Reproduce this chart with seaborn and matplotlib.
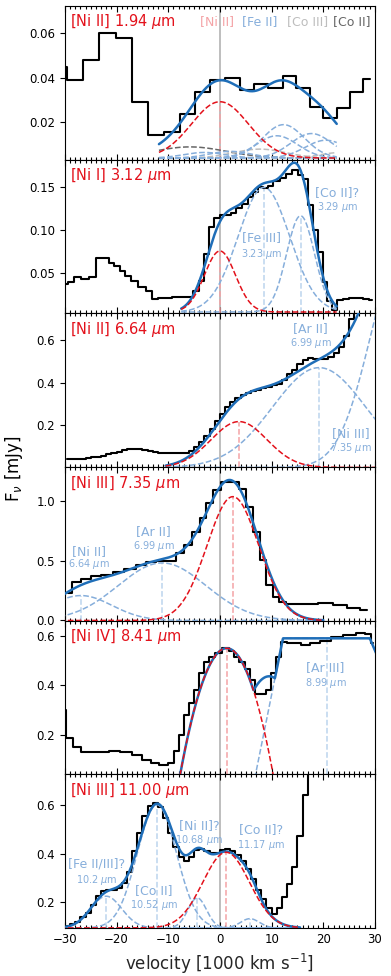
import numpy as np
import matplotlib
matplotlib.use('Agg')
import matplotlib.pyplot as plt
from matplotlib.ticker import MultipleLocator
import seaborn as sns

# ---------------- data (velocity in 1000 km/s, flux in mJy) ----------------
# [Ni II] 1.94 um
v1 = [-31.1, -28.09, -24.96, -21.73, -18.49, -15.42, -12.35, -9.28, -6.37, -3.46, -0.39,
      2.53, 5.28, 8.02, 10.77, 13.52, 16.11, 18.69, 21.28, 23.87, 26.45, 29.0]
f1 = [0.045, 0.039, 0.048, 0.060, 0.0578, 0.0293, 0.0143, 0.0155, 0.0236, 0.0338, 0.039,
      0.040, 0.0345, 0.0372, 0.0356, 0.0408, 0.0353, 0.027, 0.0218, 0.0263, 0.0335, 0.0395]
cont1 = 0.004
comp1_kind = ['main', 'co2', 'co3', 'co3', 'blend', 'blend', 'blend', 'blend', 'blend', 'blend']
comp1_center = [0.0, -5.8, 7.7, 23.5, 12.3, 17.7, 11.0, 20.5, -3.0, 2.0]
comp1_amp = [0.0253, 0.005, 0.004, 0.0025, 0.015, 0.011, 0.010, 0.008, 0.0025, 0.003]
comp1_width = [5.5, 7.0, 5.0, 4.0, 4.0, 4.0, 4.0, 4.0, 4.0, 4.0]

# [Ni I] 3.12 um
v2 = [-30.0, -28.84, -27.54, -26.12, -24.63, -23.34, -22.05, -20.95, -19.98, -18.88,
      -17.78, -16.55, -15.13, -13.64, -12.54, -11.25, -9.89, -8.47, -7.17, -5.88,
      -4.59, -3.49, -2.52, -1.55, -0.58, 0.58, 1.68, 2.72, 3.62, 4.79,
      5.89, 6.86, 7.83, 8.80, 9.77, 10.93, 12.22, 13.45, 14.55, 15.58,
      16.56, 17.52, 18.5, 19.4, 20.3, 21.2, 22.1, 23.2, 24.4, 25.7, 27.0, 28.2, 29.5]
f2 = [0.038, 0.040, 0.046, 0.043, 0.046, 0.068, 0.068, 0.062, 0.058, 0.053,
      0.047, 0.041, 0.0345, 0.0295, 0.020, 0.0217, 0.0217, 0.023, 0.023, 0.023,
      0.029, 0.041, 0.072, 0.104, 0.114, 0.118, 0.118, 0.120, 0.126, 0.131,
      0.139, 0.145, 0.151, 0.149, 0.152, 0.157, 0.161, 0.166, 0.170, 0.164,
      0.160, 0.129, 0.100, 0.075, 0.040, 0.018, 0.007, 0.0195, 0.020, 0.021, 0.0215, 0.020, 0.0195]
cont2 = 0.005
comp2_kind = ['main', 'blend', 'blend']
comp2_center = [0.0, 8.5, 15.6]
comp2_amp = [0.071, 0.145, 0.112]
comp2_width = [3.0, 5.0, 2.7]

# [Ni II] 6.64 um
v3 = [-29.5, -28.5, -27.5, -26.5, -25.5, -24.5, -23.5, -22.5, -21.5, -20.5,
      -19.5, -18.5, -17.5, -16.5, -15.5, -14.5, -13.5, -12.5, -11.5, -10.5,
      -9.5, -8.5, -7.5, -6.5, -5.5, -4.5, -3.5, -2.5, -1.5, -0.5,
      0.5, 1.5, 2.5, 3.5, 4.5, 5.5, 6.5, 7.5, 8.5, 9.5,
      10.5, 11.5, 12.5, 13.5, 14.5, 15.5, 16.5, 17.5, 18.5, 19.5,
      20.5, 21.5, 22.5, 23.5, 24.5, 25.5, 26.5]
f3 = [0.040, 0.040, 0.041, 0.042, 0.044, 0.047, 0.050, 0.055, 0.061, 0.066,
      0.074, 0.081, 0.085, 0.087, 0.086, 0.084, 0.078, 0.072, 0.069, 0.067,
      0.066, 0.066, 0.067, 0.067, 0.078, 0.098, 0.118, 0.150, 0.180, 0.220,
      0.250, 0.285, 0.310, 0.328, 0.342, 0.352, 0.360, 0.367, 0.374, 0.380,
      0.387, 0.395, 0.412, 0.440, 0.458, 0.485, 0.505, 0.514, 0.512, 0.510,
      0.512, 0.518, 0.540, 0.565, 0.620, 0.700, 0.800]
cont3 = 0.0
comp3_kind = ['main', 'blend', 'blend']
comp3_center = [3.7, 19.2, 35.5]
comp3_amp = [0.216, 0.47, 1.03]
comp3_width = [5.4, 9.0, 6.3]

# [Ni III] 7.35 um
v4 = [-29.42, -27.87, -25.93, -23.99, -21.92, -19.65, -17.39, -15.26, -13.32, -11.38,
      -9.44, -7.69, -6.08, -4.59, -3.30, -2.00, -0.58, 1.04, 2.85, 4.46,
      5.76, 7.05, 8.34, 9.64, 10.93, 12.03, 13.52, 15.46, 17.40, 20.63,
      23.21, 25.80, 28.52]
f4 = [0.228, 0.325, 0.347, 0.367, 0.381, 0.403, 0.428, 0.464, 0.492, 0.500,
      0.497, 0.561, 0.631, 0.742, 0.853, 0.978, 1.089, 1.153, 1.158, 1.097,
      0.944, 0.742, 0.506, 0.297, 0.192, 0.153, 0.136, 0.136, 0.140, 0.144,
      0.131, 0.108, 0.089]
cont4 = 0.0
comp4_kind = ['main', 'blend', 'blend']
comp4_center = [2.5, -11.2, -26.9]
comp4_amp = [1.033, 0.48, 0.208]
comp4_width = [5.0, 8.5, 6.0]

# [Ni IV] 8.41 um
v5 = [-30.4, -29.09, -27.74, -25.93, -24.12, -22.37, -20.43, -18.17, -15.9, -14.16,
      -12.67, -10.93, -9.31, -8.34, -7.37, -6.4, -5.43, -4.46, -3.49, -2.52,
      -1.55, -0.39, 1.04, 2.33, 3.3, 4.27, 5.24, 6.21, 7.18, 8.34,
      9.44, 10.41, 11.38, 12.35, 13.52, 14.81, 16.43, 18.37, 20.31, 22.57,
      25.15, 27.42, 28.84, 29.68]
f5 = [0.30, 0.187, 0.149, 0.13, 0.13, 0.13, 0.135, 0.129, 0.119, 0.099,
      0.085, 0.079, 0.085, 0.133, 0.2, 0.281, 0.328, 0.382, 0.449, 0.496,
      0.516, 0.53, 0.55, 0.537, 0.516, 0.496, 0.465, 0.422, 0.366, 0.366,
      0.382, 0.449, 0.516, 0.577, 0.57, 0.57, 0.563, 0.57, 0.581, 0.597,
      0.604, 0.613, 0.608, 0.573]
cont5 = 0.0
comp5_kind = ['main', 'blend']
comp5_center = [1.3, 20.65]
comp5_amp = [0.55, 0.59]
comp5_width = [9.34, None]
ar3_edges = [6.5, 12.2, 29.0, 41.0]   # flat-topped [Ar III] profile

# [Ni III] 11.00 um
v6 = [-29.5, -28.5, -27.5, -26.5, -25.5, -24.5, -23.5, -22.5, -21.5, -20.5,
      -19.5, -18.5, -17.5, -16.5, -15.5, -14.5, -13.5, -12.5, -11.5, -10.5,
      -9.5, -8.5, -7.5, -6.5, -5.5, -4.5, -3.5, -2.5, -1.5, -0.5,
      0.5, 1.5, 2.5, 3.5, 4.5, 5.5, 6.5, 7.5, 8.5, 9.5,
      10.5, 11.5, 12.5, 13.5, 14.5, 15.5, 16.5, 17.5]
f6 = [0.103, 0.110, 0.120, 0.138, 0.158, 0.187, 0.225, 0.245, 0.250, 0.252,
      0.258, 0.278, 0.325, 0.410, 0.485, 0.555, 0.595, 0.607, 0.590, 0.545,
      0.485, 0.428, 0.385, 0.368, 0.385, 0.413, 0.420, 0.411, 0.401, 0.403,
      0.413, 0.420, 0.412, 0.393, 0.370, 0.337, 0.297, 0.252, 0.212, 0.175,
      0.152, 0.175, 0.220, 0.275, 0.345, 0.470, 0.640, 0.800]
cont6 = 0.095
comp6_kind = ['main', 'blend', 'blend', 'blend', 'blend']
comp6_center = [1.2, -12.2, -22.0, -4.4, 5.8]
comp6_amp = [0.31, 0.505, 0.13, 0.123, 0.038]
comp6_width = [4.5, 3.8, 3.0, 1.8, 1.8]

titles = ['[Ni II] 1.94', '[Ni I] 3.12', '[Ni II] 6.64', '[Ni III] 7.35', '[Ni IV] 8.41', '[Ni III] 11.00']

# ---------------- style ----------------
sns.set_style('ticks')
plt.rcParams['font.family'] = ['DejaVu Sans']
plt.rcParams['text.color'] = 'black'
plt.rcParams['axes.edgecolor'] = 'black'
plt.rcParams['axes.linewidth'] = 0.8
plt.rcParams['xtick.color'] = 'black'
plt.rcParams['ytick.color'] = 'black'

RED = '#e3111b'
RED_PALE = '#f4a3a6'
BLUE = '#1f6eb8'
BLUE_LIGHT = '#86aedb'
BLUE_PALE = '#bcd4ee'
GRAY_LIGHT = '#bdbdbd'
GRAY_DARK = '#666666'
kind_color = {'main': RED, 'blend': BLUE_LIGHT, 'co3': GRAY_LIGHT, 'co2': GRAY_DARK}
vline_color = {'main': RED_PALE, 'blend': BLUE_PALE}


def profile(v, center, amp, width, shape='gauss'):
    if shape == 'parabola':
        return np.clip(amp * (1 - ((v - center) / width) ** 2), 0, None)
    if shape == 'flat':
        return np.interp(v, ar3_edges, [0, amp, amp, 0])
    return amp * np.exp(-0.5 * ((v - center) / width) ** 2)


panels = [
    dict(v=v1, f=f1, cont=cont1, kind=comp1_kind, c=comp1_center, a=comp1_amp, w=comp1_width,
         shape=['gauss'] * 10, vline=[True] + [False] * 9, rng=(-11.8, 22.6),
         ylim=(0.0033, 0.0724), step=0.02),
    dict(v=v2, f=f2, cont=cont2, kind=comp2_kind, c=comp2_center, a=comp2_amp, w=comp2_width,
         shape=['gauss'] * 3, vline=[True] * 3, rng=(-7.5, 22.6),
         ylim=(0.0035, 0.1824), step=0.05),
    dict(v=v3, f=f3, cont=cont3, kind=comp3_kind, c=comp3_center, a=comp3_amp, w=comp3_width,
         shape=['gauss'] * 3, vline=[True] * 3, rng=(-10.5, 32.0),
         ylim=(0.002, 0.726), step=0.2),
    dict(v=v4, f=f4, cont=cont4, kind=comp4_kind, c=comp4_center, a=comp4_amp, w=comp4_width,
         shape=['gauss'] * 3, vline=[True] * 3, rng=(-31.0, 20.0),
         ylim=(-0.002, 1.28), step=0.5),
    dict(v=v5, f=f5, cont=cont5, kind=comp5_kind, c=comp5_center, a=comp5_amp, w=comp5_width,
         shape=['parabola', 'flat'], vline=[True] * 2, rng=(-8.0, 31.0),
         ylim=(0.040, 0.661), step=0.2),
    dict(v=v6, f=f6, cont=cont6, kind=comp6_kind, c=comp6_center, a=comp6_amp, w=comp6_width,
         shape=['gauss'] * 5, vline=[True] * 5, rng=(-31.0, 15.5),
         ylim=(0.094, 0.724), step=0.2),
]

# component labels: (name, wavelength, x, y_name, y_wavelength)
labels = [
    [],
    [('[Fe III]', '3.23', 8.0, 0.092, 0.073), ('[Co II]?', '3.29', 22.7, 0.144, 0.1275)],
    [('[Ar II]', '6.99', 17.5, 0.655, 0.584), ('[Ni III]', '7.35', 25.3, 0.161, 0.090)],
    [('[Ar II]', '6.99', -12.8, 0.742, 0.622), ('[Ni II]', '6.64', -25.3, 0.575, 0.470)],
    [('[Ar III]', '8.99', 20.4, 0.472, 0.409)],
    [('[Fe II/III]?', '10.2', -23.8, 0.357, 0.293), ('[Co II]', '10.52', -12.85, 0.248, 0.190),
     ('[Ni II]?', '10.68', -4.0, 0.515, 0.454), ('[Co II]?', '11.17', 7.9, 0.498, 0.433)],
]

fig, axes = plt.subplots(6, 1, figsize=(3.91, 9.76), sharex=True)
fig.subplots_adjust(left=0.166, right=0.959, top=0.994, bottom=0.049, hspace=0)

for ax, p, title, labs in zip(axes, panels, titles, labels):
    ax.set_xlim(-30, 30)
    ax.set_ylim(*p['ylim'])
    ax.axvline(0, color='gray', alpha=0.55, lw=1.3, zorder=0)

    # observed spectrum
    sns.lineplot(x=p['v'], y=p['f'], ax=ax, color='black', lw=1.5, drawstyle='steps-mid',
                 estimator=None, sort=False, zorder=2)

    # fitted components and total model
    grid = np.linspace(p['rng'][0], p['rng'][1], 600)
    total = np.full_like(grid, p['cont'])
    for kind, c, a, w, shape, vl in zip(p['kind'], p['c'], p['a'], p['w'], p['shape'], p['vline']):
        comp = profile(grid, c, a, w, shape)
        total += comp
        z = 5 if kind == 'main' else 3
        sns.lineplot(x=grid, y=p['cont'] + comp, ax=ax, color=kind_color[kind], lw=1.1,
                     linestyle='--', estimator=None, sort=False, zorder=z)
        if vl:
            sns.lineplot(x=[c, c], y=[p['ylim'][0], p['cont'] + a], ax=ax,
                         color=vline_color.get(kind, BLUE_PALE), lw=1.1, linestyle='--',
                         estimator=None, sort=False, zorder=1)
    sns.lineplot(x=grid, y=total, ax=ax, color=BLUE, lw=1.8, estimator=None, sort=False, zorder=4)

    ax.text(0.016, 0.895, title + r' $\mu$m', transform=ax.transAxes, color=RED,
            fontsize=10.5, ha='left', va='center')
    for name, wl, x, yn, yw in labs:
        ax.text(x, yn, name, color=BLUE_LIGHT, fontsize=9, ha='center', va='center', zorder=6)
        ax.text(x, yw, wl + r' $\mu$m', color=BLUE_LIGHT, fontsize=7, ha='center', va='center', zorder=6)

    ax.yaxis.set_major_locator(MultipleLocator(p['step']))
    ax.xaxis.set_major_locator(MultipleLocator(10))
    ax.xaxis.set_minor_locator(MultipleLocator(1))
    ax.tick_params(axis='x', which='both', direction='in', top=True, bottom=True, width=0.8)
    ax.tick_params(axis='x', which='major', length=4, labelsize=8.5)
    ax.tick_params(axis='x', which='minor', length=2)
    ax.tick_params(axis='y', which='major', direction='out', length=3.5, width=0.8,
                   labelsize=8.5, right=False)
    ax.set_ylabel('')

# header of first panel
for txt, col, xpos in [('[Ni II]', RED_PALE, 0.435), ('[Fe II]', BLUE_LIGHT, 0.571),
                       ('[Co III]', GRAY_LIGHT, 0.716), ('[Co II]', GRAY_DARK, 0.865)]:
    axes[0].text(xpos, 0.896, txt, transform=axes[0].transAxes, color=col, fontsize=9,
                 ha='left', va='center')

axes[-1].set_xlabel(r'velocity [1000 km s$^{-1}$]', fontsize=12)
fig.text(0.037, 0.52, r'F$_\nu$ [mJy]', rotation=90, fontsize=12, ha='center', va='center')

fig.savefig('out.png', dpi=100)
